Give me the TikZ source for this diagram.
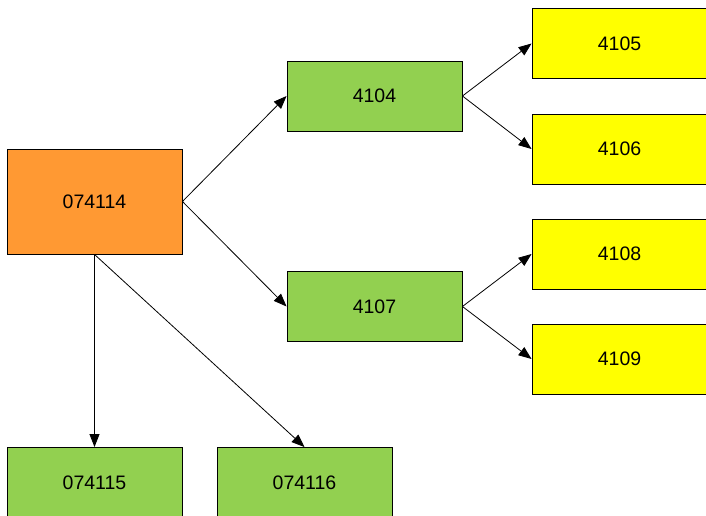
\documentclass[tikz,border=0pt]{standalone}
\usepackage{fontspec}
\setmainfont{Liberation Sans}
\usetikzlibrary{arrows.meta}
\definecolor{boxorange}{HTML}{FF9933}
\definecolor{boxgreen}{HTML}{92D050}
\definecolor{boxyellow}{HTML}{FFFF00}
\begin{document}
\begin{tikzpicture}[x=1pt,y=-1pt,
  box/.style={draw=black, line width=0.9pt, inner sep=0pt, minimum width=175pt, minimum height=70pt, font=\fontsize{19.5}{22}\selectfont},
  tall/.style={minimum height=105pt},
  conn/.style={draw=black, line width=0.8pt, -{Triangle[length=13pt,width=10pt]}}]
\useasboundingbox (0,0) rectangle (706,516);
\clip (0,0) rectangle (706,516);
\node[box, tall, fill=boxorange] (a) at (94.5,201.5) {074114};
\node[box, fill=boxgreen] (b) at (374.5,96) {4104};
\node[box, fill=boxgreen] (c) at (374.5,306.5) {4107};
\node[box, fill=boxyellow] (d) at (619.5,43.5) {4105};
\node[box, fill=boxyellow] (e) at (619.5,149) {4106};
\node[box, fill=boxyellow] (f) at (619.5,254) {4108};
\node[box, fill=boxyellow] (g) at (619.5,359) {4109};
\node[box, fill=boxgreen] (h) at (94.5,482.5) {074115};
\node[box, fill=boxgreen] (i) at (304.5,482.5) {074116};
\draw[conn] (a.east) -- (b.west);
\draw[conn] (a.east) -- (c.west);
\draw[conn] (a.south) -- (h.north);
\draw[conn] (a.south) -- (i.north);
\draw[conn] (b.east) -- (d.west);
\draw[conn] (b.east) -- (e.west);
\draw[conn] (c.east) -- (f.west);
\draw[conn] (c.east) -- (g.west);
\end{tikzpicture}
\end{document}
